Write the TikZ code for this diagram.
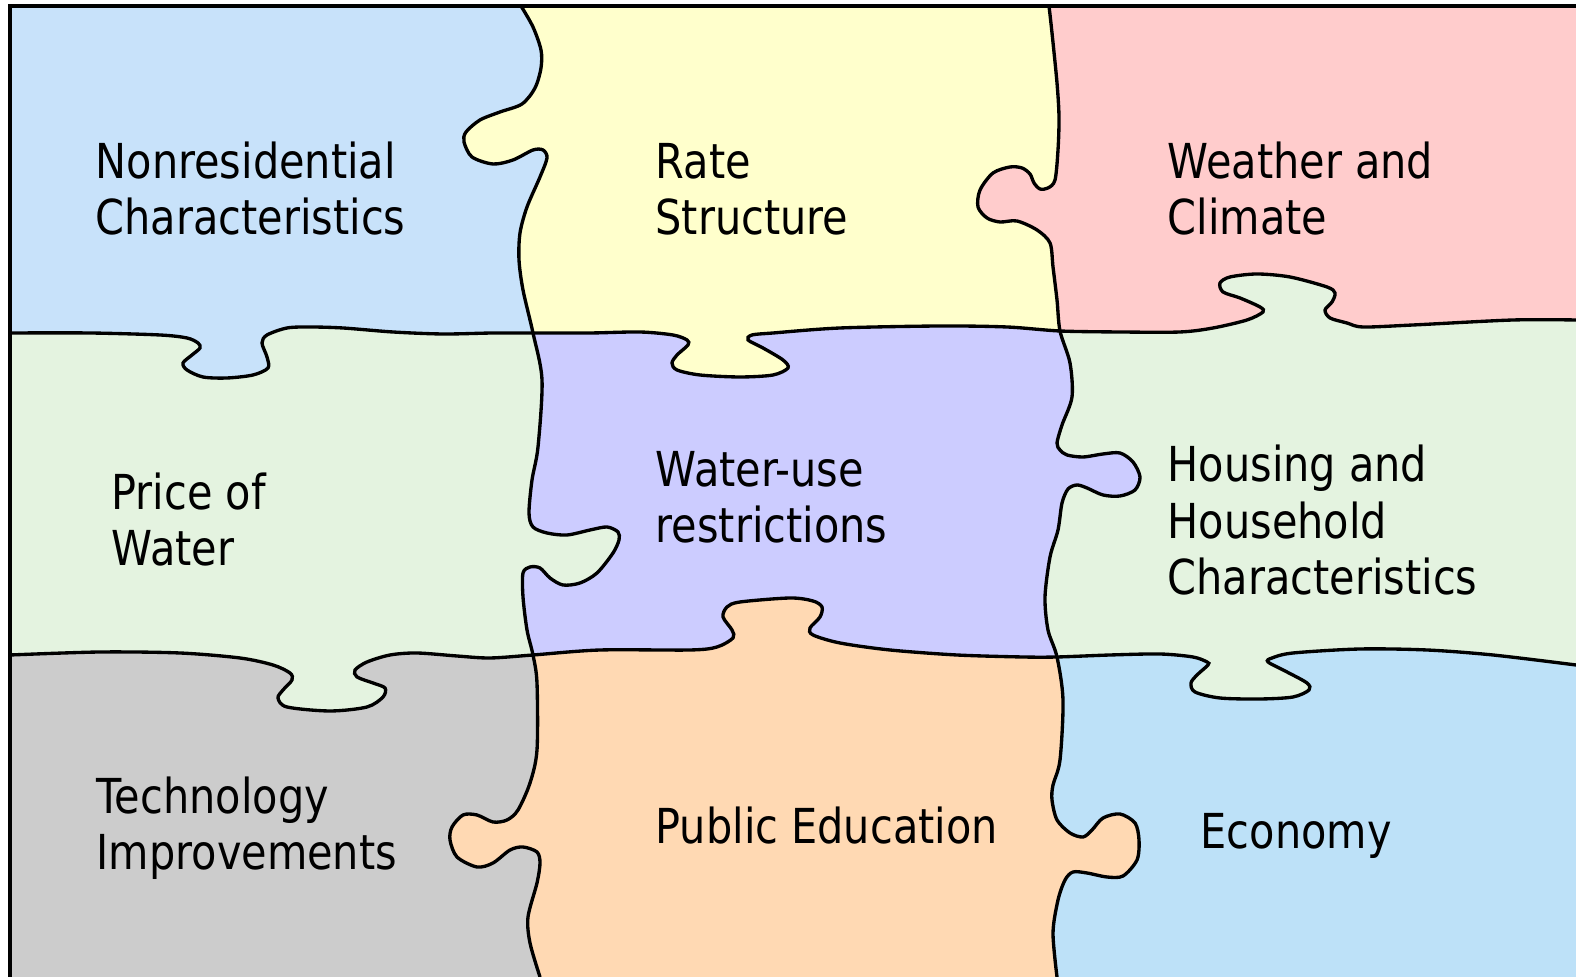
\documentclass[tikz,border=0pt]{standalone}
\usepackage{fontspec}
\setmainfont{DejaVu Sans}[FakeStretch=0.86]

\definecolor{nonresblue}{RGB}{200,226,250}
\definecolor{rateyellow}{RGB}{255,255,204}
\definecolor{weatherpink}{RGB}{255,204,204}
\definecolor{pricegreen}{RGB}{228,243,224}
\definecolor{restrictlav}{RGB}{204,204,255}
\definecolor{housegreen}{RGB}{228,243,224}
\definecolor{techgray}{RGB}{204,204,204}
\definecolor{educpeach}{RGB}{255,217,179}
\definecolor{econblue}{RGB}{189,225,248}

% the four cuts of the puzzle
\def\cutA{-- plot[smooth,tension=0.5] coordinates {(521,6) (533,27) (541,50) (541,68) (535,88) (522,104) (500,112) (480,120) (466,132) (464,142) (472,157) (493,164) (513,160) (533,150) (543,150) (547,158) (540,177) (527,207) (520,233) (519,260) (523,290) (533,333) (542,380) (538,447) (532,480) (529,513) (533,527) (547,533) (567,535) (590,530) (607,527) (618,532) (619,540) (613,553) (597,573) (580,583) (563,585) (550,578) (540,568) (530,567) (523,573) (523,597) (527,630) (533,655) (537,683) (537,750) (530,783) (518,810) (507,820) (493,822) (477,815) (463,815) (452,827) (450,840) (457,857) (477,867) (493,863) (510,850) (523,847) (537,852) (540,863) (537,883) (528,917) (530,943) (540,977)}}
\def\cutB{-- plot[smooth,tension=0.5] coordinates {(1049,6) (1052,33) (1057,83) (1059,117) (1058,150) (1055,180) (1048,188) (1040,189) (1034,183) (1030,174) (1022,168) (1010,167) (993,173) (980,190) (978,207) (987,218) (1000,222) (1017,221) (1037,230) (1050,243) (1053,267) (1057,300) (1060,331) (1070,363) (1072,397) (1062,425) (1057,443) (1060,450) (1067,455) (1083,457) (1103,454) (1120,453) (1133,462) (1140,477) (1135,490) (1120,496) (1103,495) (1087,488) (1077,485) (1068,489) (1062,503) (1058,530) (1050,557) (1045,597) (1048,630) (1057,657) (1063,700) (1060,760) (1053,785) (1052,800) (1057,820) (1070,833) (1083,837) (1092,830) (1103,818) (1120,814) (1135,823) (1139,840) (1137,860) (1123,876) (1107,877) (1087,873) (1073,872) (1065,880) (1058,900) (1053,933) (1057,977)}}
\def\cutC{-- plot[smooth,tension=0.5] coordinates {(10,333) (90,333) (160,335) (187,338) (198,343) (200,348) (192,355) (183,363) (187,370) (203,377) (227,378) (253,375) (268,368) (267,357) (262,343) (267,335) (287,328) (310,327) (343,328) (393,332) (443,334) (493,333) (533,333) (590,333) (640,332) (673,335) (687,340) (688,345) (677,355) (672,363) (677,370) (700,375) (740,377) (773,375) (788,368) (783,360) (763,348) (748,340) (752,335) (773,333) (840,328) (940,326) (1007,327) (1060,331) (1120,332) (1180,332) (1213,328) (1247,320) (1263,312) (1260,307) (1240,298) (1223,292) (1220,283) (1230,277) (1257,274) (1290,277) (1327,287) (1335,293) (1332,302) (1325,310) (1330,318) (1347,323) (1363,327) (1413,325) (1513,320) (1576,320)}}
\def\cutD{-- plot[smooth,tension=0.5] coordinates {(10,655) (100,652) (180,653) (240,658) (273,665) (290,673) (292,680) (283,690) (278,698) (287,707) (330,711) (367,707) (383,697) (385,688) (373,683) (357,677) (355,670) (367,662) (390,655) (417,653) (457,656) (490,658) (533,655) (600,650) (690,650) (717,647) (733,638) (732,630) (723,617) (727,607) (740,602) (790,598) (813,601) (822,607) (820,617) (810,628) (813,635) (840,643) (890,650) (957,655) (1023,657) (1057,657) (1110,655) (1160,654) (1193,657) (1207,662) (1208,665) (1197,675) (1191,683) (1195,692) (1220,698) (1260,699) (1293,697) (1309,690) (1307,683) (1287,672) (1268,662) (1272,658) (1293,653) (1360,649) (1427,650) (1493,655) (1576,665)}}

\begin{document}
\begin{tikzpicture}[x=0.01cm,y=-0.01cm,line width=0.95pt,
  label/.style={align=left,anchor=base west,inner sep=0pt,font=\fontsize{13.7}{16.2}\selectfont}]
  \useasboundingbox (0,0) rectangle (1576,977);
  \begin{scope}
    \clip (10,6) rectangle (1576,977);
    % bottom row
    \fill[econblue] (0,0) rectangle (1600,1000);
    \fill[educpeach] (1049,0) \cutB -- (1057,1000) -- (0,1000) -- (0,0) -- cycle;
    \fill[techgray] (521,0) \cutA -- (540,1000) -- (0,1000) -- (0,0) -- cycle;
    % middle row
    \begin{scope}
      \clip (0,0) -- (0,655) \cutD -- (1600,665) -- (1600,0) -- cycle;
      \fill[housegreen] (0,0) rectangle (1600,1000);
      \fill[restrictlav] (1049,0) \cutB -- (1057,1000) -- (0,1000) -- (0,0) -- cycle;
      \fill[pricegreen] (521,0) \cutA -- (540,1000) -- (0,1000) -- (0,0) -- cycle;
    \end{scope}
    % top row
    \begin{scope}
      \clip (0,0) -- (0,333) \cutC -- (1600,320) -- (1600,0) -- cycle;
      \fill[weatherpink] (0,0) rectangle (1600,1000);
      \fill[rateyellow] (1049,0) \cutB -- (1057,1000) -- (0,1000) -- (0,0) -- cycle;
      \fill[nonresblue] (521,0) \cutA -- (540,1000) -- (0,1000) -- (0,0) -- cycle;
    \end{scope}
  \end{scope}
  \draw (521,6) \cutA;
  \draw (1049,6) \cutB;
  \draw (10,333) \cutC;
  \draw (10,655) \cutD;
  \draw (10,977) -- (10,6) -- (1576,6);

  % labels sit on the baseline of their last line
  \node[label] (nonres) at (94,235) {Nonresidential\\Characteristics};
  \node[label] (rate) at (654,235) {Rate\\Structure};
  \node[label] (weather) at (1166,235) {Weather and\\Climate};
  \node[label] (price) at (110,566) {Price of\\Water};
  \node[label] (restrict) at (654,543) {Water-use\\restrictions};
  \node[label] (housing) at (1166,595) {Housing and\\Household\\Characteristics};
  \node[label] (tech) at (95,870) {Technology\\Improvements};
  \node[label] (educ) at (654,844) {Public Education};
  \node[label] (economy) at (1199,849) {Economy};
\end{tikzpicture}
\end{document}
